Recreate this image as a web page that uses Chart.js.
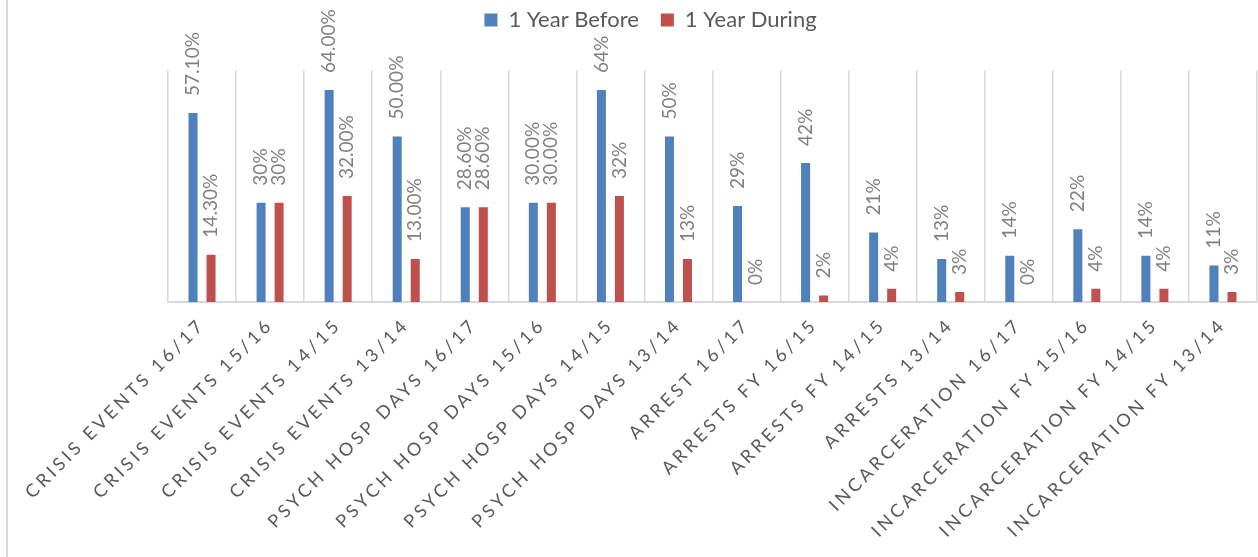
<!DOCTYPE html>
<html>
<head>
<meta charset="utf-8">
<title>Outcomes: 1 Year Before vs 1 Year During</title>
<script src="https://cdn.jsdelivr.net/npm/chart.js@4.4.1/dist/chart.umd.min.js"></script>
<style>
  html, body { margin: 0; padding: 0; background: #ffffff; }
  #wrap { position: relative; width: 1258px; height: 557px; overflow: hidden; }
  #frame { position: absolute; left: 6px; top: 0; width: 2px; height: 557px; background: #d9d9d9; }
  #chart { position: absolute; left: 0; top: 0; }
</style>
</head>
<body>
<div id="wrap">
  <div id="frame"></div>
  <canvas id="chart" width="1258" height="557"></canvas>
</div>
<script>
// Categories along the x axis
const categories = [
  'CRISIS EVENTS 16/17',
  'CRISIS EVENTS 15/16',
  'CRISIS EVENTS 14/15',
  'CRISIS EVENTS 13/14',
  'PSYCH HOSP DAYS 16/17',
  'PSYCH HOSP DAYS 15/16',
  'PSYCH HOSP DAYS 14/15',
  'PSYCH HOSP DAYS 13/14',
  'ARREST 16/17',
  'ARRESTS FY 16/15',
  'ARRESTS FY 14/15',
  'ARRESTS 13/14',
  'INCARCERATION 16/17',
  'INCARCERATION FY 15/16',
  'INCARCERATION FY 14/15',
  'INCARCERATION FY 13/14'
];

// Percentages per category
const yearBefore = [57.1, 30, 64, 50, 28.6, 30, 64, 50, 29, 42, 21, 13, 14, 22, 14, 11];
const yearDuring = [14.3, 30, 32, 13, 28.6, 30, 32, 13, 0, 2, 4, 3, 0, 4, 4, 3];

// Number of decimals shown in each category's value labels
const labelDecimals = [2, 0, 2, 2, 2, 2, 0, 0, 0, 0, 0, 0, 0, 0, 0, 0];

const seriesNames = ['1 Year Before', '1 Year During'];
const seriesColors = ['#4f81bd', '#c0504d'];

const FONT = 'Lato, "Liberation Sans", sans-serif';

// Vertical value labels above each bar
const valueLabels = {
  id: 'valueLabels',
  afterDatasetsDraw(chart) {
    const ctx = chart.ctx;
    ctx.save();
    ctx.font = '19px ' + FONT;
    ctx.fillStyle = '#808080';
    ctx.textAlign = 'left';
    ctx.textBaseline = 'middle';
    chart.data.datasets.forEach((ds, di) => {
      const meta = chart.getDatasetMeta(di);
      meta.data.forEach((bar, i) => {
        const text = ds.data[i].toFixed(labelDecimals[i]) + '%';
        ctx.save();
        ctx.translate(bar.x, bar.y - 17);
        ctx.rotate(-Math.PI / 2);
        ctx.fillText(text, 0, 0);
        ctx.restore();
      });
    });
    ctx.restore();
  }
};

// Letter-spaced category labels on the x axis
const spacedTicks = {
  id: 'spacedTicks',
  beforeDraw(chart) {
    const sc = chart.scales.x;
    if (sc && !sc._spacedLabels) {
      const orig = sc.drawLabels.bind(sc);
      sc.drawLabels = function (area) {
        const ctx = this.ctx;
        ctx.save();
        ctx.letterSpacing = '3.5px';
        orig(area);
        ctx.restore();
      };
      sc._spacedLabels = true;
    }
  }
};

new Chart(document.getElementById('chart'), {
  type: 'bar',
  data: {
    labels: categories,
    datasets: [
      { label: seriesNames[0], data: yearBefore, backgroundColor: seriesColors[0] },
      { label: seriesNames[1], data: yearDuring, backgroundColor: seriesColors[1] }
    ]
  },
  options: {
    responsive: false,
    animation: false,
    events: [],
    categoryPercentage: 36 / 68,
    barPercentage: 0.5,
    layout: { padding: { left: 44, right: 1, top: -13, bottom: 0 } },
    plugins: {
      legend: {
        position: 'top',
        align: 'center',
        labels: {
          boxWidth: 13,
          boxHeight: 13,
          padding: 22,
          color: '#595959',
          font: { family: FONT, size: 22 }
        }
      },
      title: {
        display: true,
        text: ' ',
        position: 'top',
        weight: 500,
        font: { size: 1 },
        padding: { top: 0, bottom: 28 }
      },
      tooltip: { enabled: false }
    },
    scales: {
      x: {
        grid: { display: true, color: '#d9d9d9', lineWidth: 1.5, drawTicks: false, offset: true },
        border: { display: true, color: '#d9d9d9', width: 2 },
        ticks: {
          color: '#595959',
          font: { family: FONT, size: 18 },
          minRotation: 45,
          maxRotation: 45,
          autoSkip: false,
          padding: 12
        },
        afterFit(s) { s.height = 255; s.paddingLeft = 0; s.paddingRight = 0; }
      },
      y: {
        min: 0,
        max: 70,
        ticks: { display: false },
        grid: { display: false },
        border: { display: false },
        afterFit(s) { s.width = 124; }
      }
    }
  },
  plugins: [valueLabels, spacedTicks]
});
</script>
</body>
</html>
